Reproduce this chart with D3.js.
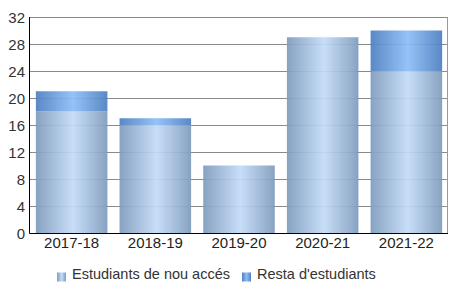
<!doctype html>
<html lang="ca">
<head>
<meta charset="UTF-8">
<title>Estudiants</title>
<script src="https://cdn.jsdelivr.net/npm/d3@7"></script>
<style>
  body { margin: 0; background: #fff; }
  text { font-family: "Liberation Sans", Arial, sans-serif; }
</style>
</head>
<body>
<script>
// dades del grafic
var cursos = ["2017-18", "2018-19", "2019-20", "2020-21", "2021-22"];
var nouAcces = [18, 16, 10, 29, 24];
var resta = [3, 1, 0, 0, 6];
var series = ["Estudiants de nou accés", "Resta d'estudiants"];
var yTicks = [0, 4, 8, 12, 16, 20, 24, 28, 32];

var W = 456, H = 305;
var pLeft = 30, pRight = 448, pTop = 17, pBottom = 233;

var svg = d3.select("body").append("svg").attr("width", W).attr("height", H);
var defs = svg.append("defs");

// gradients horitzontals per a cada serie
function grad(id, edge, mid) {
  var g = defs.append("linearGradient").attr("id", id)
    .attr("x1", "0%").attr("x2", "100%").attr("y1", "0%").attr("y2", "0%");
  g.append("stop").attr("offset", "0%").attr("stop-color", edge);
  g.append("stop").attr("offset", "52%").attr("stop-color", mid);
  g.append("stop").attr("offset", "100%").attr("stop-color", edge);
}
grad("g0", "#7f9cbd", "#c4dcf8");
grad("g1", "#4f80c2", "#8ebef7");

var x = d3.scaleBand().domain(cursos).range([pLeft, pRight]).paddingInner(0.145).paddingOuter(0.07);
var y = d3.scaleLinear().domain([0, 32]).range([pBottom, pTop]);

// linies de la graella
svg.append("g").selectAll("line").data(yTicks.slice(1)).enter().append("line")
  .attr("x1", pLeft).attr("x2", pRight)
  .attr("y1", function(d) { return y(d) + 0.5; })
  .attr("y2", function(d) { return y(d) + 0.5; })
  .attr("stroke", "#8a8a8a").attr("stroke-width", 1);

// vora dreta
svg.append("line").attr("x1", pRight - 0.5).attr("x2", pRight - 0.5)
  .attr("y1", pTop).attr("y2", pBottom).attr("stroke", "#9a9a9a");

var stack = cursos.map(function(c, i) { return { curs: c, a: nouAcces[i], b: resta[i] }; });

var bars = svg.append("g").attr("opacity", 0.93);
bars.selectAll("rect.a").data(stack).enter().append("rect")
  .attr("x", function(d) { return x(d.curs); })
  .attr("width", x.bandwidth())
  .attr("y", function(d) { return y(d.a); })
  .attr("height", function(d) { return y(0) - y(d.a); })
  .attr("fill", "url(#g0)");
bars.selectAll("rect.b").data(stack.filter(function(d) { return d.b > 0; })).enter().append("rect")
  .attr("x", function(d) { return x(d.curs); })
  .attr("width", x.bandwidth())
  .attr("y", function(d) { return y(d.a + d.b); })
  .attr("height", function(d) { return y(d.a) - y(d.a + d.b); })
  .attr("fill", "url(#g1)");

// eixos
var yAxis = svg.append("g").attr("transform", "translate(" + pLeft + ",0)")
  .call(d3.axisLeft(y).tickValues(yTicks).tickSize(0).tickPadding(5));
yAxis.select(".domain").remove();
yAxis.selectAll("text").attr("font-size", 15).attr("dy", "0.36em")
  .style("font-family", "Liberation Sans, Arial, sans-serif").attr("fill", "#333");

var xAxis = svg.append("g").attr("transform", "translate(0," + pBottom + ")")
  .call(d3.axisBottom(x).tickSize(0).tickPadding(4));
xAxis.select(".domain").remove();
xAxis.selectAll("text").attr("font-size", 15)
  .style("font-family", "Liberation Sans, Arial, sans-serif").attr("fill", "#222");

svg.append("line").attr("x1", pLeft - 0.5).attr("x2", pLeft - 0.5).attr("y1", pTop).attr("y2", pBottom + 0.5)
  .attr("stroke", "#000");
svg.append("line").attr("x1", pLeft - 0.5).attr("x2", pRight).attr("y1", pBottom + 0.5).attr("y2", pBottom + 0.5)
  .attr("stroke", "#000");

// llegenda
var leg = [{ t: series[0], g: "url(#g0)", x: 57 }, { t: series[1], g: "url(#g1)", x: 242 }];
var lg = svg.append("g").selectAll("g").data(leg).enter().append("g")
  .attr("transform", function(d) { return "translate(" + d.x + ",270)"; });
lg.append("rect").attr("y", 2.5).attr("width", 9).attr("height", 9).attr("fill", function(d) { return d.g; });
lg.append("text").attr("x", 15).attr("y", 9).attr("font-size", 14.5).attr("fill", "#333").text(function(d) { return d.t; });
</script>
</body>
</html>
